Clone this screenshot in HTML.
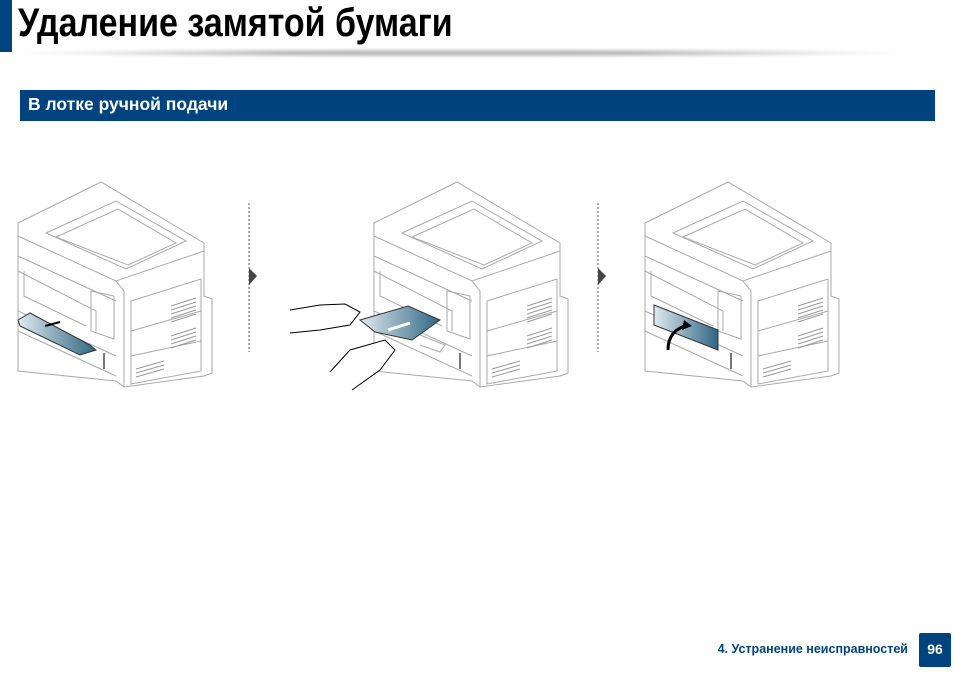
<!DOCTYPE html>
<html><head><meta charset="utf-8"><style>
body{margin:0;width:954px;height:675px;background:#fff;position:relative;overflow:hidden;font-family:"Liberation Sans",sans-serif}
.bar{position:absolute;left:0;top:0;width:12px;height:52px;background:#00437f}
.title{position:absolute;left:18px;top:0px;font-weight:bold;font-size:40px;line-height:46px;color:#000;white-space:nowrap;transform:scaleX(0.85);transform-origin:0 0}
.shadow{position:absolute;left:10px;top:50px;width:900px;height:6px;background:linear-gradient(to right,rgba(180,180,180,0),#bbb 30%,#bbb 70%,rgba(180,180,180,0));border-radius:50%;filter:blur(1.5px)}
.hdr{position:absolute;left:20px;top:90px;width:915px;height:31px;background:#00437f;color:#fff;font-weight:bold;font-size:17.5px;line-height:29px;box-sizing:border-box;padding-left:8px}
.foot{position:absolute;right:46px;top:642px;font-size:12.5px;font-weight:bold;color:#00437f}
.pg{position:absolute;left:919px;top:633px;width:32px;height:34px;background:#00437f;color:#fff;font-weight:bold;font-size:14px;text-align:center;line-height:32px;border-radius:2px}
</style></head><body>
<div class="bar"></div>
<div class="title">Удаление замятой бумаги</div>
<div class="shadow"></div>
<div class="hdr">В лотке ручной подачи</div>
<svg width="954" height="675" style="position:absolute;left:0;top:0">
<defs>
<linearGradient id="bl" x1="0" x2="1"><stop offset="0" stop-color="#dfeaf0"/><stop offset="1" stop-color="#2f6683"/></linearGradient>
<g id="pr" fill="none" stroke="#aaa" stroke-width="1">
<path d="M2,42 L85,1 L188,62 L188,115 L196,118 L196,192 L188,195 L108,206 L100,200 L2,190 Z" fill="#fff"/>
<path d="M2,42 L2,55 L100,100 L188,70"/>
<path d="M100,100 L108,110 L108,206"/>
<path d="M30,52 L100,20 L170,60 L110,88 Z"/>
<path d="M40,56 L102,28 L160,62 L112,84 Z"/>
<path d="M2,75 L100,120"/><path d="M2,90 L80,130 L80,150"/>
<path d="M8,90 L8,115 L70,145"/>
<path d="M2,130 L100,175"/><path d="M2,150 L100,195"/>
<path d="M75,110 L98,115 L98,158 L75,150 Z"/>
<path d="M115,120 L185,98 L185,190 L115,203 Z"/>
<path d="M115,150 L185,130 M115,175 L185,160"/>
<g stroke="#999"><path d="M155,125 L180,117 M155,129 L180,121 M155,133 L180,125 M155,137 L180,129 M155,141 L180,133"/>
<path d="M155,155 L180,147 M155,159 L180,151 M155,163 L180,155 M155,167 L180,159"/>
<path d="M120,188 L148,180 M120,192 L148,184 M120,196 L148,188"/></g>
<path d="M88,172 L88,188" stroke="#777" stroke-width="2"/>
</g>
</defs>
<use href="#pr" x="16" y="181"/>
<use href="#pr" x="372" y="181"/>
<use href="#pr" x="643" y="181"/>
<path d="M18,320 L30,313 L90,345 L96,350 L80,355 L20,326 Z" fill="url(#bl)" stroke="#333" stroke-width="1"/>
<path d="M60,322 L45,326" stroke="#000" stroke-width="2"/>
<path d="M360,320 L408,306 L440,320 L412,340 L375,332 Z" fill="url(#bl)" stroke="#333"/>
<path d="M410,323 L388,330" stroke="#fff" stroke-width="3"/>
<path d="M290,310 L320,305 L345,304 L360,312 L350,325 L320,330 L290,333" fill="#fff" stroke="#000"/>
<path d="M330,372 L350,350 L385,340 L395,350 L380,370 L352,390" fill="#fff" stroke="#000"/>
<path d="M420,335 L445,345 L440,352 L420,345" fill="none" stroke="#aaa"/>
<path d="M654,305 L718,330 L718,350 L654,325 Z" fill="url(#bl)" stroke="#333"/>
<path d="M668,350 Q668,330 688,325" fill="none" stroke="#000" stroke-width="3"/>
<path d="M684,320 L692,326 L682,330 Z" fill="#000"/>
<line x1="249" y1="203" x2="249" y2="352" stroke="#555" stroke-dasharray="2,2"/>
<polygon points="249,268 257,276 249,285" fill="#444"/>
<line x1="598" y1="203" x2="598" y2="352" stroke="#555" stroke-dasharray="2,2"/>
<polygon points="598,268 606,276 598,285" fill="#444"/>
</svg>
<div class="foot">4. Устранение неисправностей</div>
<div class="pg">96</div>
</body></html>
